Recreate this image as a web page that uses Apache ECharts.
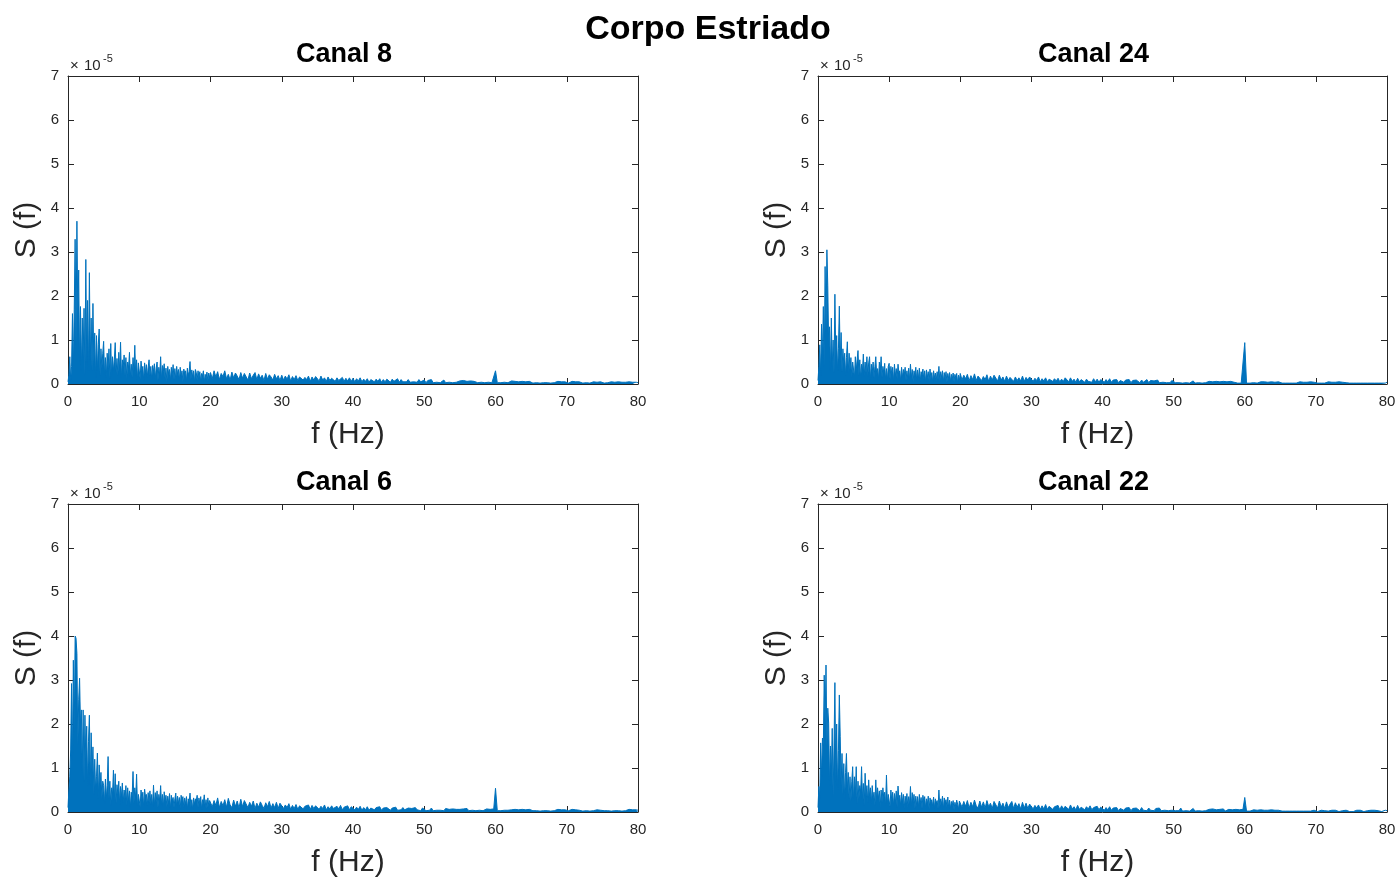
<!DOCTYPE html>
<html>
<head>
<meta charset="utf-8">
<title>Corpo Estriado</title>
<script src="https://cdn.jsdelivr.net/npm/echarts@6/dist/echarts.min.js"></script>
<style>
  html, body { margin: 0; padding: 0; background: #fff; }
  #chart { width: 1400px; height: 882px; }
</style>
</head>
<body>
<div id="chart"></div>
<script>
// Power spectra S(f) of four channels.
// "Head" arrays: 0 to 19.875 Hz every 0.125 Hz; "tail" arrays: 20 to 80 Hz every 0.25 Hz.
// Values are stored in units of 1e-7; the axes show units of 1e-5.
const headStart = 0, headStep = 0.125;
const tailStart = 20, tailStep = 0.25;
const unitToAxis = 0.01;          // 1e-7 -> 1e-5
const superTitle = 'Corpo Estriado';
const channelNames = ['Canal 8', 'Canal 24', 'Canal 6', 'Canal 22'];
const xLabelText = 'f (Hz)';
const yLabelText = 'S (f)';
const exponentParts = ['\u00d7', '10', '-5'];
const xRange = [0, 80, 10];        // min, max, tick step
const yRange = [0, 7, 1];

// ---------- Canal 8 ----------
const canal8Head = [
  5, 20, 62, 8, 40, 160, 35, 170,
  329, 90, 370, 150, 259, 45, 176, 30,
  150, 60, 172, 20, 283, 48, 190, 25,
  253, 55, 150, 30, 183, 45, 116, 15,
  110, 30, 90, 125, 20, 80, 35, 70,
  97, 22, 60, 15, 70, 35, 80, 12,
  92, 18, 62, 30, 55, 94, 25, 58,
  20, 72, 30, 95, 15, 55, 38, 66,
  20, 60, 12, 50, 35, 72, 18, 45,
  15, 60, 30, 88, 20, 55, 10, 48,
  45, 12, 52, 30, 40, 8, 48, 25,
  44, 15, 38, 55, 20, 40, 10, 42,
  28, 46, 12, 36, 50, 8, 38, 20,
  62, 10, 42, 28, 46, 12, 36, 5,
  40, 22, 33, 8, 38, 18, 44, 10,
  35, 10, 40, 22, 33, 8, 38, 18,
  30, 5, 34, 25, 30, 6, 36, 20,
  28, 51, 10, 32, 15, 30, 4, 33,
  26, 8, 30, 15, 28, 5, 24, 18,
  30, 4, 22, 12, 27, 6, 25, 14
];
const canal8Tail = [
  26, 12, 30, 16, 28, 10, 24, 17, 30, 12, 22, 9, 27, 14, 25, 18, 10, 26, 13, 24,
  22, 9, 25, 12, 20, 26, 10, 23, 13, 20, 8, 24, 11, 21, 16, 9, 22, 12, 19, 8,
  20, 9, 18, 11, 21, 7, 17, 10, 19, 8, 16, 20, 9, 15, 10, 18, 6, 16, 9, 17,
  15, 7, 18, 9, 14, 6, 16, 8, 13, 17, 6, 14, 8, 12, 15, 6, 13, 7, 14, 6,
  13, 5, 12, 7, 14, 5, 11, 6, 12, 4, 10, 13, 5, 11, 6, 12, 4, 10, 5, 11,
  10, 4, 11, 6, 9, 12, 4, 10, 5, 9, 5, 10, 4, 8, 5, 9, 4, 10, 5, 8,
  9, 3, 8, 4, 10, 3, 7, 4, 8, 3, 7, 9, 3, 6, 4, 8, 3, 7, 4, 6,
  7, 3, 8, 4, 6, 3, 7, 4, 6, 8, 3, 6, 4, 7, 3, 6, 4, 7, 3, 6,
  30, 3, 6, 3, 7, 4, 6, 3, 5, 7, 3, 6, 4, 5, 3, 6, 4, 5, 3, 6,
  5, 2, 6, 3, 5, 2, 6, 3, 5, 3, 6, 2, 5, 3, 4, 6, 2, 5, 3, 5,
  5, 2, 4, 6, 2, 5, 3, 5, 3, 2, 5, 3, 6, 2, 4, 5, 2, 4, 3, 5,
  4, 2, 5, 3, 4, 5, 2, 4, 3, 5, 2, 4, 3, 4, 2, 5, 3, 4, 2, 4,
  3
];

// ---------- Canal 24 ----------
const canal24Head = [
  8, 40, 89, 20, 136, 60, 176, 40,
  267, 120, 305, 223, 90, 130, 30, 150,
  40, 100, 25, 204, 60, 110, 30, 80,
  177, 50, 117, 28, 80, 45, 70, 20,
  60, 96, 25, 70, 32, 60, 15, 50,
  50, 15, 62, 30, 55, 76, 20, 55,
  12, 45, 30, 68, 18, 50, 25, 62,
  18, 48, 62, 10, 45, 25, 50, 14,
  40, 62, 20, 35, 10, 50, 28, 62,
  15, 40, 25, 47, 10, 35, 8, 40,
  47, 10, 40, 22, 38, 6, 45, 18,
  35, 12, 45, 25, 30, 6, 38, 15,
  33, 20, 38, 8, 30, 12, 36, 10,
  45, 15, 33, 5, 30, 18, 38, 8,
  32, 12, 36, 6, 28, 20, 34, 10,
  30, 5, 32, 15, 28, 6, 34, 12,
  26, 4, 30, 14, 25, 8, 28, 10,
  40, 6, 28, 15, 30, 5, 26, 12,
  28, 4, 24, 12, 26, 6, 22, 10,
  25, 5, 22, 14, 24, 3, 20, 8
];
const canal24Tail = [
  24, 9, 20, 12, 22, 7, 19, 10, 23, 8, 18, 20, 8, 17, 10, 21, 6, 18, 9, 20,
  17, 7, 20, 9, 16, 6, 18, 8, 15, 19, 6, 16, 8, 14, 7, 18, 6, 15, 9, 16,
  15, 6, 13, 8, 16, 5, 12, 7, 14, 5, 11, 15, 6, 12, 7, 13, 5, 11, 6, 14,
  12, 5, 14, 6, 11, 4, 13, 5, 10, 12, 4, 11, 6, 10, 4, 12, 5, 11, 4, 10,
  11, 4, 10, 5, 12, 4, 9, 5, 10, 3, 8, 11, 4, 9, 5, 10, 3, 8, 4, 9,
  8, 3, 9, 4, 7, 10, 3, 8, 4, 7, 4, 9, 3, 7, 4, 8, 3, 7, 3, 8,
  8, 3, 6, 3, 7, 2, 6, 3, 7, 2, 5, 7, 2, 6, 3, 5, 2, 6, 3, 5,
  6, 2, 5, 3, 6, 2, 5, 2, 6, 3, 5, 2, 6, 2, 4, 5, 2, 6, 2, 5,
  94, 2, 5, 2, 6, 3, 5, 2, 4, 5, 2, 5, 2, 4, 2, 5, 2, 4, 2, 5,
  4, 2, 5, 2, 4, 2, 5, 2, 4, 2, 4, 5, 2, 4, 2, 4, 2, 5, 2, 4,
  4, 2, 5, 2, 4, 2, 3, 5, 2, 4, 2, 4, 2, 5, 2, 4, 2, 3, 4, 2,
  4, 2, 5, 2, 4, 2, 4, 2, 5, 2, 4, 2, 4, 2, 5, 2, 4, 2, 4, 2,
  4
];

// ---------- Canal 6 ----------
const canal6Head = [
  10, 50, 80, 141, 292, 120, 345, 180,
  400, 395, 360, 150, 255, 304, 200, 232,
  90, 232, 70, 220, 120, 195, 60, 160,
  220, 60, 180, 90, 148, 40, 120, 50,
  80, 134, 30, 107, 60, 90, 30, 70,
  60, 20, 75, 30, 60, 126, 30, 70,
  15, 55, 40, 95, 25, 87, 20, 62,
  40, 70, 18, 58, 35, 66, 22, 50,
  30, 60, 15, 55, 25, 48, 10, 45,
  35, 92, 20, 55, 30, 86, 12, 40,
  40, 12, 50, 28, 45, 10, 52, 35,
  40, 15, 44, 22, 48, 18, 40, 12,
  61, 15, 44, 22, 48, 10, 40, 25,
  60, 18, 40, 10, 46, 25, 38, 12,
  36, 20, 42, 8, 38, 25, 33, 10,
  30, 43, 12, 36, 20, 33, 8, 38,
  25, 35, 10, 32, 18, 35, 6, 30,
  22, 43, 12, 28, 5, 32, 18, 30,
  25, 38, 10, 32, 18, 35, 6, 28,
  22, 39, 12, 28, 8, 32, 15, 26
];
const canal6Tail = [
  30, 12, 26, 15, 32, 10, 24, 14, 28, 11, 31, 16, 10, 27, 13, 25, 9, 29, 12, 26,
  24, 10, 22, 13, 25, 8, 20, 11, 23, 15, 8, 21, 12, 24, 9, 19, 10, 22, 8, 20,
  18, 8, 16, 10, 19, 6, 15, 8, 17, 6, 14, 18, 7, 13, 9, 16, 6, 15, 8, 14,
  15, 6, 13, 8, 16, 5, 12, 7, 14, 8, 5, 13, 7, 15, 5, 11, 7, 14, 5, 12,
  12, 5, 11, 6, 13, 4, 10, 5, 12, 4, 9, 11, 5, 10, 6, 12, 4, 9, 5, 10,
  10, 4, 9, 5, 11, 4, 8, 5, 10, 5, 3, 9, 5, 8, 4, 10, 5, 8, 3, 9,
  8, 3, 7, 4, 9, 3, 6, 4, 8, 4, 7, 3, 8, 4, 6, 3, 7, 4, 6, 8,
  6, 3, 7, 4, 8, 3, 6, 4, 7, 3, 6, 4, 8, 3, 5, 7, 3, 6, 4, 7,
  54, 3, 6, 3, 7, 4, 5, 4, 3, 5, 3, 6, 3, 5, 3, 6, 3, 5, 3, 6,
  5, 3, 6, 3, 5, 2, 6, 3, 5, 3, 6, 2, 5, 3, 4, 6, 3, 5, 2, 5,
  5, 3, 4, 6, 2, 5, 3, 4, 5, 2, 4, 3, 5, 2, 6, 3, 2, 5, 3, 4,
  5, 3, 6, 3, 5, 2, 6, 3, 5, 3, 6, 2, 5, 3, 4, 6, 3, 5, 2, 5,
  4
];

// ---------- Canal 22 ----------
const canal22Head = [
  10, 58, 30, 157, 80, 168, 150, 311,
  200, 334, 150, 236, 202, 60, 150, 80,
  190, 35, 150, 294, 70, 200, 50, 140,
  266, 171, 60, 133, 40, 110, 30, 90,
  133, 50, 90, 30, 80, 25, 70, 103,
  25, 80, 40, 103, 20, 70, 30, 60,
  45, 103, 30, 65, 15, 88, 35, 60,
  22, 73, 35, 55, 20, 60, 30, 45,
  15, 73, 25, 55, 30, 48, 12, 50,
  22, 55, 30, 45, 15, 84, 20, 40,
  40, 12, 50, 25, 45, 15, 42, 20,
  48, 10, 59, 28, 38, 14, 44, 22,
  40, 8, 36, 20, 42, 12, 35, 18,
  58, 14, 44, 22, 40, 8, 36, 15,
  35, 12, 40, 20, 33, 8, 38, 24,
  35, 10, 30, 18, 36, 6, 32, 22,
  28, 12, 34, 9, 30, 20, 26, 8,
  50, 10, 30, 18, 36, 6, 32, 22,
  28, 12, 34, 9, 27, 8, 24, 15,
  26, 5, 22, 12, 27, 18, 6, 25
];
const canal22Tail = [
  27, 11, 24, 13, 26, 9, 22, 12, 27, 14, 9, 25, 11, 23, 9, 26, 12, 20, 8, 24,
  22, 9, 25, 11, 20, 8, 23, 10, 18, 24, 8, 21, 11, 19, 7, 22, 9, 20, 8, 18,
  17, 7, 15, 9, 16, 6, 14, 7, 17, 6, 13, 16, 6, 12, 8, 15, 5, 14, 7, 13,
  14, 6, 16, 7, 12, 5, 15, 6, 11, 13, 5, 12, 7, 14, 5, 10, 6, 13, 5, 11,
  11, 4, 10, 5, 12, 4, 9, 5, 10, 3, 8, 11, 4, 9, 5, 10, 3, 8, 4, 9,
  9, 3, 10, 4, 8, 3, 9, 4, 7, 3, 8, 4, 9, 3, 7, 4, 8, 3, 7, 4,
  8, 3, 7, 3, 9, 2, 6, 3, 7, 2, 6, 8, 2, 5, 3, 7, 2, 6, 3, 5,
  6, 2, 7, 3, 5, 2, 6, 3, 7, 2, 5, 6, 2, 5, 3, 6, 2, 5, 2, 6,
  33, 2, 5, 2, 4, 5, 2, 4, 2, 5, 2, 4, 2, 4, 2, 5, 2, 4, 2, 4,
  4, 2, 5, 2, 4, 2, 4, 2, 5, 2, 4, 2, 4, 2, 5, 2, 4, 2, 3, 4,
  4, 1, 3, 4, 1, 3, 4, 2, 3, 4, 1, 4, 3, 1, 4, 3, 1, 4, 3, 1,
  4, 1, 3, 4, 1, 4, 3, 1, 4, 3, 1, 4, 3, 4, 1, 3, 4, 1, 3, 4,
  3
];

const channelData = [
  [canal8Head, canal8Tail],
  [canal24Head, canal24Tail],
  [canal6Head, canal6Tail],
  [canal22Head, canal22Tail]
];

// ---- layout and styling ----
const FONT = '"Liberation Sans", Arial, Helvetica, sans-serif';
const AXIS_COLOR = '#262626';
const LINE_COLOR = '#0072BD';
const panels = [
  { left: 68,  top: 76,  width: 570, height: 308 },
  { left: 818, top: 76,  width: 569, height: 308 },
  { left: 68,  top: 504, width: 570, height: 308 },
  { left: 818, top: 504, width: 569, height: 308 }
];

const grid = [], xAxis = [], yAxis = [], series = [], graphic = [];

const axisLine = { show: true, onZero: false, lineStyle: { color: AXIS_COLOR, width: 1 } };
const axisTick = { show: true, inside: true, length: 6, lineStyle: { color: AXIS_COLOR, width: 1 } };

function toPoints(head, tail) {
  const pts = head.map((v, k) => [headStart + k * headStep, v * unitToAxis]);
  tail.forEach((v, j) => pts.push([tailStart + j * tailStep, v * unitToAxis]));
  return pts;
}

panels.forEach((p, i) => {
  grid.push({ left: p.left, top: p.top, width: p.width, height: p.height, containLabel: false });

  const xBase = { gridIndex: i, type: 'value', min: xRange[0], max: xRange[1], interval: xRange[2],
                  splitLine: { show: false }, axisLine, axisTick };
  const yBase = { gridIndex: i, type: 'value', min: yRange[0], max: yRange[1], interval: yRange[2],
                  splitLine: { show: false }, axisLine, axisTick };

  xAxis.push(Object.assign({}, xBase, {
    position: 'bottom',
    axisLabel: { show: true, margin: 10, color: AXIS_COLOR, fontSize: 15, fontFamily: FONT },
    name: xLabelText, nameLocation: 'middle', nameGap: 36,
    nameTextStyle: { fontSize: 30, fontFamily: FONT, color: AXIS_COLOR, padding: [0, 10, 0, 0] }
  }));
  xAxis.push(Object.assign({}, xBase, { position: 'top', axisLabel: { show: false } }));

  yAxis.push(Object.assign({}, yBase, {
    position: 'left',
    axisLabel: { show: true, margin: 9, color: AXIS_COLOR, fontSize: 15, fontFamily: FONT },
    name: yLabelText, nameLocation: 'middle', nameGap: 26,
    nameTextStyle: { fontSize: 30, fontFamily: FONT, color: AXIS_COLOR }
  }));
  yAxis.push(Object.assign({}, yBase, { position: 'right', axisLabel: { show: false } }));

  // the spectrum is sampled far more densely than a pixel, so its trace reads as a solid band
  series.push({
    type: 'line',
    xAxisIndex: 2 * i,
    yAxisIndex: 2 * i,
    data: toPoints(channelData[i][0], channelData[i][1]),
    showSymbol: false,
    symbol: 'none',
    sampling: null,
    clip: true,
    lineStyle: { color: LINE_COLOR, width: 1 },
    areaStyle: { color: LINE_COLOR, opacity: 1 },
    emphasis: { disabled: true },
    animation: false
  });

  // panel title
  graphic.push({
    type: 'text', x: p.left + p.width / 2 - 9, y: p.top - 21,
    style: { text: channelNames[i], font: 'bold 27px ' + FONT, fill: '#000',
             align: 'center', verticalAlign: 'middle' }
  });
  // axis exponent: ×10^-5
  graphic.push({
    type: 'text', x: p.left + 2, y: p.top - 10,
    style: { text: exponentParts[0], font: '15px ' + FONT, fill: AXIS_COLOR,
             align: 'left', verticalAlign: 'middle' }
  });
  graphic.push({
    type: 'text', x: p.left + 16, y: p.top - 10,
    style: { text: exponentParts[1], font: '15px ' + FONT, fill: AXIS_COLOR,
             align: 'left', verticalAlign: 'middle' }
  });
  graphic.push({
    type: 'text', x: p.left + 35, y: p.top - 17,
    style: { text: exponentParts[2], font: '11px ' + FONT, fill: AXIS_COLOR,
             align: 'left', verticalAlign: 'middle' }
  });
});

graphic.push({
  type: 'text', x: 708, y: 30,
  style: { text: superTitle, font: 'bold 34px ' + FONT, fill: '#000',
           align: 'center', verticalAlign: 'middle' }
});

const chart = echarts.init(document.getElementById('chart'), null, { renderer: 'canvas' });
chart.setOption({
  backgroundColor: '#ffffff',
  animation: false,
  grid, xAxis, yAxis, series, graphic,
  tooltip: { show: false }
});
</script>
</body>
</html>
